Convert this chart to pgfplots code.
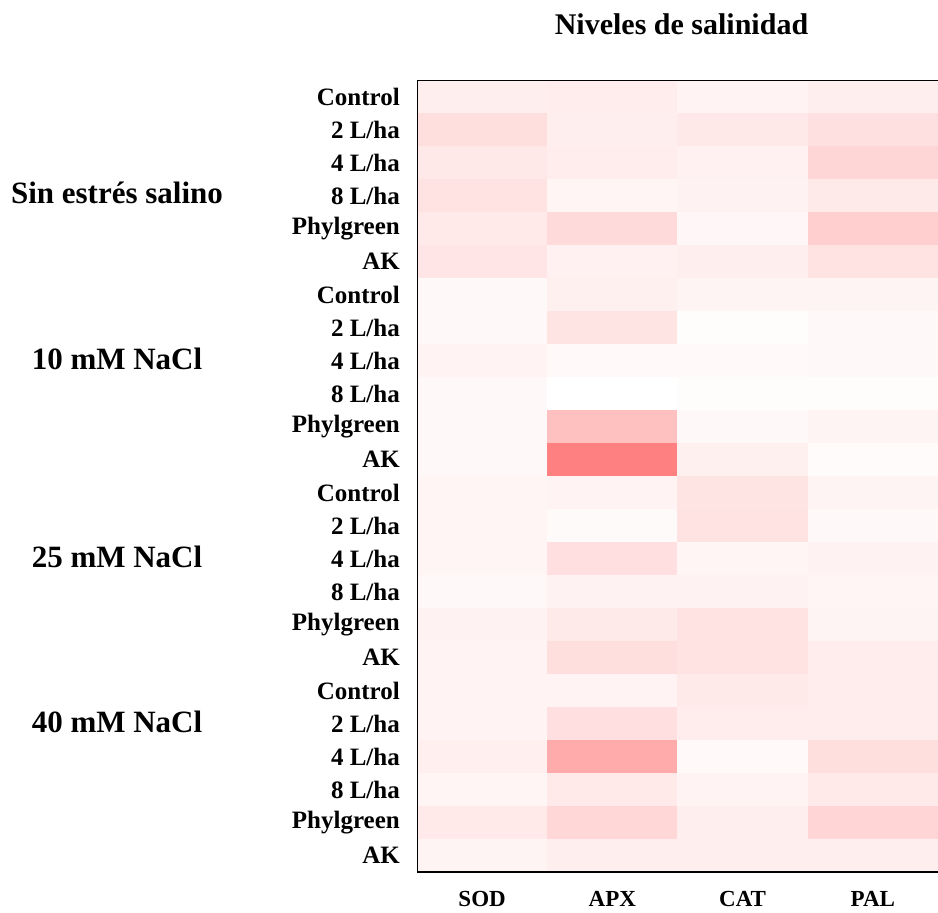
\documentclass[border=0pt]{standalone}
\usepackage{pgfplots}
\pgfplotsset{compat=1.18}
\usepackage{fontspec}
\setmainfont{Liberation Serif}
\begin{document}
\begin{tikzpicture}[x=1pt,y=1pt]
\useasboundingbox (0,0) rectangle (938,-913);
\begin{axis}[
  at={(417pt,-80pt)}, anchor=north west,
  width=521pt, height=792pt, scale only axis,
  xmin=-0.5, xmax=3.5, ymin=-0.5, ymax=23.5,
  y dir=reverse,
  axis line style={draw=none},
  major tick length=0pt,
  xtick={0,1,2,3},
  xticklabels={SOD,APX,CAT,PAL},
  ytick={0,...,23},
  yticklabels={Control,2 L/ha,4 L/ha,8 L/ha,Phylgreen,AK,Control,2 L/ha,4 L/ha,8 L/ha,Phylgreen,AK,Control,2 L/ha,4 L/ha,8 L/ha,Phylgreen,AK,Control,2 L/ha,4 L/ha,8 L/ha,Phylgreen,AK},
  yticklabel style={font=\fontsize{25}{28}\selectfont\bfseries, anchor=east, inner sep=0pt, xshift=-17pt},
  xticklabel style={font=\fontsize{23}{26}\selectfont\bfseries, anchor=north, inner sep=0pt, yshift=-19pt},
  title={Niveles de salinidad},
  title style={font=\fontsize{30}{34}\selectfont\bfseries, at={(0.5,1)}, anchor=base, yshift=40pt, xshift=4pt},
  colormap={pinkred}{rgb255=(255,255,255) rgb255=(255,128,128)},
  point meta min=0, point meta max=1,
]
\addplot[matrix plot*, mesh/cols=4, point meta=explicit] table[meta=v] {
x y v
0 0 0.134
1 0 0.15
2 0 0.094
3 0 0.134
0 1 0.26
1 1 0.134
2 1 0.18
3 1 0.244
0 2 0.18
1 2 0.15
2 2 0.11
3 2 0.32
0 3 0.23
1 3 0.08
2 3 0.10
3 3 0.165
0 4 0.17
1 4 0.29
2 4 0.063
3 4 0.38
0 5 0.20
1 5 0.11
2 5 0.134
3 5 0.23
0 6 0.055
1 6 0.118
2 6 0.087
3 6 0.087
0 7 0.055
1 7 0.21
2 7 0.024
3 7 0.055
0 8 0.094
1 8 0.047
2 8 0.047
3 8 0.055
0 9 0.055
1 9 0.0
2 9 0.024
3 9 0.024
0 10 0.055
1 10 0.49
2 10 0.055
3 10 0.087
0 11 0.055
1 11 1.0
2 11 0.118
3 11 0.03
0 12 0.08
1 12 0.094
2 12 0.21
3 12 0.087
0 13 0.08
1 13 0.04
2 13 0.22
3 13 0.055
0 14 0.08
1 14 0.25
2 14 0.08
3 14 0.10
0 15 0.055
1 15 0.10
2 15 0.10
3 15 0.08
0 16 0.10
1 16 0.165
2 16 0.22
3 16 0.087
0 17 0.094
1 17 0.26
2 17 0.23
3 17 0.14
0 18 0.094
1 18 0.094
2 18 0.165
3 18 0.15
0 19 0.094
1 19 0.25
2 19 0.15
3 19 0.15
0 20 0.126
1 20 0.66
2 20 0.047
3 20 0.26
0 21 0.08
1 21 0.17
2 21 0.094
3 21 0.17
0 22 0.17
1 22 0.31
2 22 0.134
3 22 0.33
0 23 0.087
1 23 0.134
2 23 0.134
3 23 0.134
};
\draw[line width=2pt] (rel axis cs:1,0) -- (rel axis cs:0,0) -- (rel axis cs:0,1) -- (rel axis cs:1,1);
\end{axis}
\begin{scope}[every node/.style={font=\fontsize{31}{34}\selectfont\bfseries, inner sep=0pt}]
\node at (117,-193) {Sin estrés salino};
\node at (117,-359) {10 mM NaCl};
\node at (117,-557) {25 mM NaCl};
\node at (117,-722) {40 mM NaCl};
\end{scope}
\end{tikzpicture}
\end{document}
